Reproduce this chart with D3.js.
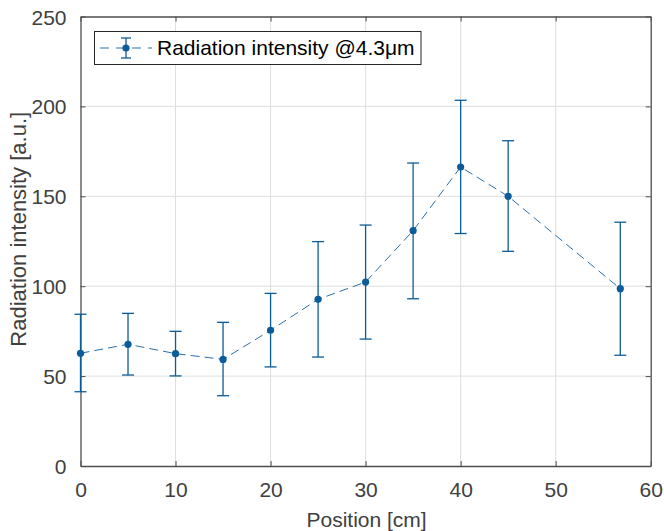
<!DOCTYPE html>
<html><head><meta charset="utf-8">
<script src="https://cdn.jsdelivr.net/npm/d3@7"></script>
<style>body{margin:0;background:#fff}svg{display:block}text{font-family:"Liberation Sans",Arial,sans-serif}</style>
</head><body><svg id="c" width="664" height="531"></svg>
<script>
const positions = [0, 5, 10, 15, 20, 25, 30, 35, 40, 45, 56.8];
const intensity = [62.7, 67.7, 62.5, 59.3, 75.5, 92.7, 102.3, 130.9, 166.3, 150.0, 98.6];
const upper = [84.4, 84.9, 74.9, 79.9, 96.0, 124.8, 134.0, 168.5, 203.4, 180.9, 135.6];
const lower = [41.3, 50.6, 50.1, 39.1, 55.1, 60.6, 70.6, 93.0, 129.3, 119.4, 61.6];
const xTicks = [0, 10, 20, 30, 40, 50, 60];
const yTicks = [0, 50, 100, 150, 200, 250];
const seriesName = "Radiation intensity @4.3μm";

const svg = d3.select("#c");
const L = 80.5, R = 650.7, T = 16.5, B = 466;
const x = d3.scaleLinear().domain([0, 60]).range([L, R]);
const y = d3.scaleLinear().domain([0, 250]).range([B, T]);
const col = "#0b5c99";
const axisCol = "#4d4d4d";
const txtCol = "#404040";

// grid
svg.append("g").selectAll("line").data(xTicks.slice(1, -1)).join("line")
  .attr("x1", d => x(d)).attr("x2", d => x(d)).attr("y1", T).attr("y2", B)
  .attr("stroke", "#dedede").attr("stroke-width", 1);
svg.append("g").selectAll("line").data(yTicks.slice(1, -1)).join("line")
  .attr("y1", d => y(d)).attr("y2", d => y(d)).attr("x1", L).attr("x2", R)
  .attr("stroke", "#dedede").attr("stroke-width", 1);

// axes
const fs = 21;
const xb = svg.append("g").attr("transform", `translate(0,${B})`)
  .call(d3.axisBottom(x).tickValues(xTicks).tickSizeInner(-5).tickSizeOuter(0).tickPadding(16));
const xt = svg.append("g").attr("transform", `translate(0,${T})`)
  .call(d3.axisTop(x).tickValues(xTicks).tickSizeInner(-5).tickSizeOuter(0).tickFormat(""));
const yl = svg.append("g").attr("transform", `translate(${L},0)`)
  .call(d3.axisLeft(y).tickValues(yTicks).tickSizeInner(-5).tickSizeOuter(0).tickPadding(14));
const yr = svg.append("g").attr("transform", `translate(${R},0)`)
  .call(d3.axisRight(y).tickValues(yTicks).tickSizeInner(-5).tickSizeOuter(0).tickFormat(""));
[xb, xt, yl, yr].forEach(g => {
  g.select(".domain").attr("stroke", axisCol).attr("stroke-width", 1.3);
  g.selectAll(".tick line").attr("stroke", axisCol);
  g.selectAll("text").attr("fill", txtCol).style("font-size", fs + "px").attr("font-family", "Liberation Sans, Arial, sans-serif");
});
yl.selectAll("text").attr("dy", "0.36em");
xb.selectAll("text").attr("dy", "0.72em");

// axis labels
svg.append("text").attr("x", (L + R) / 2 + 1).attr("y", 527).attr("text-anchor", "middle")
  .attr("fill", txtCol).style("font-size", fs + "px").text("Position [cm]");
svg.append("text").attr("transform", `translate(26,${(T + B) / 2 - 12}) rotate(-90)`).attr("text-anchor", "middle")
  .attr("fill", txtCol).style("font-size", "22px").text("Radiation intensity [a.u.]");

// dashed line
const pts = positions.map((p, i) => [p, intensity[i]]);
svg.append("path").datum(pts)
  .attr("d", d3.line().x(d => x(d[0])).y(d => y(d[1])))
  .attr("fill", "none").attr("stroke", "#2a70aa").attr("stroke-width", 1)
  .attr("stroke-dasharray", "9,5");

// error bars
const eb = svg.append("g");
positions.forEach((p, i) => {
  const cx = x(p);
  eb.append("line").attr("x1", cx).attr("x2", cx).attr("y1", y(lower[i])).attr("y2", y(upper[i]))
    .attr("stroke", col).attr("stroke-width", 1.3);
  [lower[i], upper[i]].forEach(v => {
    eb.append("line").attr("x1", cx - 6).attr("x2", cx + 6).attr("y1", y(v)).attr("y2", y(v))
      .attr("stroke", col).attr("stroke-width", 1.3);
  });
});
svg.append("g").selectAll("circle").data(pts).join("circle")
  .attr("cx", d => x(d[0])).attr("cy", d => y(d[1])).attr("r", 3.6).attr("fill", col);

// legend
const lg = svg.append("g");
lg.append("rect").attr("x", 94.5).attr("y", 31.5).attr("width", 326.5).attr("height", 33)
  .attr("fill", "#fff").attr("stroke", "#262626").attr("stroke-width", 1);
const ly = 48, lx = 126;
lg.append("line").attr("x1", lx - 26).attr("x2", lx + 26).attr("y1", ly).attr("y2", ly)
  .attr("stroke", "#2a70aa").attr("stroke-width", 1).attr("stroke-dasharray", "9,7");
lg.append("line").attr("x1", lx).attr("x2", lx).attr("y1", ly - 10).attr("y2", ly + 10).attr("stroke", col).attr("stroke-width", 1.3);
lg.append("line").attr("x1", lx - 5).attr("x2", lx + 5).attr("y1", ly - 10).attr("y2", ly - 10).attr("stroke", col).attr("stroke-width", 1.3);
lg.append("line").attr("x1", lx - 5).attr("x2", lx + 5).attr("y1", ly + 10).attr("y2", ly + 10).attr("stroke", col).attr("stroke-width", 1.3);
lg.append("circle").attr("cx", lx).attr("cy", ly).attr("r", 3.6).attr("fill", col);
lg.append("text").attr("x", 157).attr("y", ly).attr("dy", "0.35em").attr("fill", "#000")
  .style("font-size", fs + "px").text(seriesName);
</script></body></html>
